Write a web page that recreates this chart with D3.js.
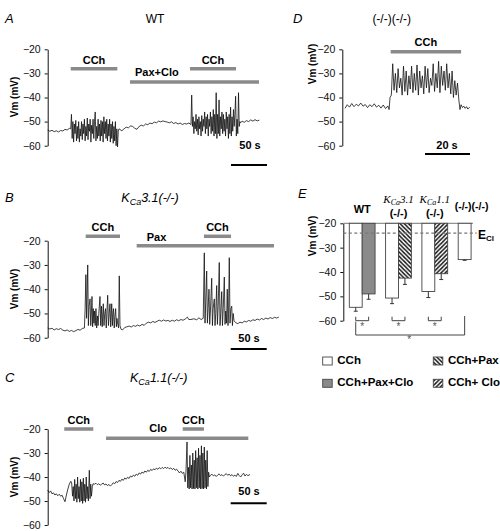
<!DOCTYPE html>
<html><head><meta charset="utf-8">
<script src="https://cdn.jsdelivr.net/npm/d3@7"></script>
<style>body{margin:0;background:#fff} text{font-family:"Liberation Sans",Arial,sans-serif}</style>
</head><body><script>
// ---------- DATA ----------
const vmTicks = [-20, -30, -40, -50, -60];

// Panel A: WT trace [time s, Vm mV]
const traceA = [[0,-53.5],[3,-54],[6,-53.6],[9,-54.2],[12,-53.8],[15,-54.3],[18,-53.7],[21,-53.9],[24,-53.2],[27,-53.5],[30,-52.8],[32,-53],
[33,-47],[34,-57],[35,-50],[36,-58.5],[37,-51],[38,-55],[39,-49.5],[40,-58],[41,-52],[42,-57],[43,-50],[44,-58.5],[45,-53],[46,-56],[47,-50],[48,-57.5],[49,-51],[50,-55],[51,-49],[52,-58],[53,-52],[54,-56],[55,-48.5],[56,-57.5],[57,-51],[58,-54],[59,-49],[60,-58.5],[61,-51.5],[62,-55],[63,-49],[64,-57],[65,-50],[66,-46],[67,-58],[68,-52],[69,-57],[70,-49],[71,-56],[72,-51],[73,-58],[74,-49.5],[75,-56],[76,-50],[77,-58.5],[78,-48],[79,-55],[80,-50],[81,-57],[82,-49],[83,-58],[84,-51],[85,-56],[86,-49],[87,-58.5],[88,-51],[89,-57],[90,-50],[91,-59],[92,-52],[93,-58],[94,-50],[95,-60],[96,-53],[97,-60.5],[98,-54],[99,-53],
[100,-53.2],[103,-53.8],[106,-53],[109,-52.3],[112,-52.6],[115,-51.8],[118,-52],[121,-52.8],[124,-53.2],[127,-52],[130,-51.5],[133,-51.8],[136,-51],[139,-51.3],[142,-50.6],[145,-50.9],[148,-50.2],[151,-50.5],[154,-49.8],[157,-50.1],[160,-49.7],[163,-50],[166,-50.2],[169,-50.5],[172,-50.1],[175,-50.8],[178,-50.4],[181,-51],[184,-50.6],[187,-51.2],[190,-50.8],[193,-51],[196,-50.6],[199,-51.2],
[200,-39],[201,-52],[202,-48],[203,-55],[204,-50],[205,-53],[206,-47],[207,-54],[208,-49],[209,-55.5],[210,-48],[211,-53],[212,-50],[213,-56],[214,-47.5],[215,-54],[216,-49],[217,-52],[218,-46],[219,-55],[220,-48],[221,-53],[222,-47],[223,-56],[224,-49],[225,-52],[226,-46],[227,-55],[228,-48],[229,-54],[230,-45],[231,-56],[232,-47],[233,-55],[234,-38],[235,-57],[236,-47],[237,-55],[238,-41],[239,-56],[240,-48],[241,-53],[242,-46],[243,-55],[244,-47],[245,-54],[246,-49],[247,-56],[248,-46],[249,-53],[250,-48],[251,-57],[252,-47],[253,-55],[254,-44],[255,-56],[256,-48],[257,-54],[258,-45],[259,-52],[260,-47],[261,-39.5],[262,-56],[263,-49],[264,-55],[265,-38],[266,-52],[267,-50],
[268,-50.5],[270,-49.8],[273,-50.3],[276,-49.6],[279,-50],[282,-49.3],[285,-49.8],[288,-49.2],[291,-49.7],[294,-49.4]];

// Panel B: KCa3.1(-/-)
const traceB = [[0,-56],[3,-56.4],[6,-56.1],[9,-56.8],[12,-56.3],[15,-56.6],[18,-56.2],[21,-56.9],[24,-57.2],[27,-56.8],[30,-57.4],[33,-57],[36,-57.5],[39,-57.1],[42,-56.6],[45,-56.9],[48,-56.2],[51,-56],
[52,-48],[53,-34],[54,-52],[55.6,-30],[56.5,-55],[57.5,-47],[58.8,-44],[59.8,-55],[60.8,-49],[61.5,-43],[62.4,-55.5],[63.3,-48],[64.2,-54],[65,-49],[66,-55],[67,-48],[68,-56],[69,-51],[70,-55],[71,-50],[72.6,-43],[73.6,-55],[74.7,-47],[75.7,-55.5],[77.2,-46],[78.2,-55],[79.2,-50],[80.3,-48],[81.3,-56],[82.3,-49],[83.3,-42.5],[84.4,-55],[85.5,-50],[86.5,-46],[87.5,-55.5],[88.9,-46],[89.9,-55],[90.6,-50],[91.4,-48],[92.4,-56],[93.4,-51],[94.4,-48],[95.4,-55.5],[96.2,-52],[97,-54],[98.5,-56],[99.4,-34.5],[100.4,-55],[101.8,-56.5],
[104,-56.8],[107,-55.8],[110,-55.5],[113,-55.2],[116,-55.6],[119,-55],[122,-55.3],[125,-54.8],[128,-55.2],[131,-54.5],[134,-54.9],[137,-54],[140,-53.6],[143,-53.9],[146,-53.3],[149,-53.7],[152,-53.2],[155,-52.8],[158,-53.2],[161,-52.7],[164,-53.1],[167,-52.9],[170,-53.3],[173,-52.8],[176,-53.2],[179,-52.6],[182,-53],[185,-52.5],[188,-52.8],[191,-52.3],[194,-51.5],[196,-52.5],[199,-52.5],[203,-52.2],[207,-52.6],[210,-51.8],[213,-52.5],[216,-52],
[217.5,-25],[218.5,-54],[219.5,-45],[220.8,-32.5],[221.8,-54],[222.8,-48],[224,-40],[225,-54.5],[226,-49],[227.8,-35.5],[228.8,-55],[229.8,-48],[231.4,-44],[232.4,-55],[233.4,-50],[234.7,-38.5],[235.7,-54.5],[236.8,-47],[238.3,-29],[239.3,-55],[240.3,-50],[241.7,-41],[242.7,-55],[243.8,-48],[245.3,-35],[246.3,-54.5],[247.3,-49],[248.4,-54],[249.4,-40],[250.4,-55],[251.2,-50],[252.2,-27],[253.2,-54],[254.4,-48],[255.6,-47],[256.6,-55],[257.6,-50],[258.8,-53],
[261,-53.8],[264,-54.2],[267,-53.6],[270,-53.9],[273,-53.2],[276,-53.5],[279,-52.9],[282,-53.2],[285,-52.6],[288,-52.9],[291,-52.3],[294,-52.7],[297,-52.1],[300,-52.5],[303,-51.9],[306,-52.3],[309,-51.7],[312,-52.1],[315,-51.6],[318,-51.9],[321,-51.5]];

// Panel C: KCa1.1(-/-)
const traceC = [[0,-45.5],[2,-46.5],[4,-45.8],[6,-47],[8,-46.6],[10,-47.5],[12,-47],[14,-47.8],[16,-47.2],[18,-48],[20,-47.6],[22,-49],[24,-50.3],[26,-47.5],[28,-45],[30,-43],[32,-41.8],[33.3,-42.5],
[34.5,-48],[35.5,-44],[36.5,-50],[37.5,-41],[38.5,-49],[39.5,-43],[40.5,-50.5],[41.5,-40],[42.5,-49],[43.5,-44],[44.5,-50.5],[45.5,-41],[46.5,-50],[47.5,-42],[48.5,-51],[49.5,-40.5],[50.5,-50],[51.5,-43],[52.5,-50.5],[53.5,-40],[54.5,-49],[55.5,-44],[56.5,-50],[57.8,-37.2],[58.8,-49],[59.8,-43],[60.8,-48],[62,-44],[63,-42.8],
[65,-43],[67,-42.6],[69,-43.2],[71,-42.8],[73,-43.4],[75,-43],[77,-42.5],[79,-43.3],[81,-42.9],[83,-43.6],[85,-43.1],[87,-43.8],[89,-43.2],[91,-42.4],[93,-42.8],[95,-41.9],[97,-42.3],[99,-41.4],[101,-41.8],[103,-40.9],[105,-41.4],[107,-40.4],[109,-40.9],[111,-40.1],[113,-40.6],[115,-39.6],[117,-40],[119,-39.2],[121,-39.7],[123,-38.8],[125,-39.3],[127,-38.3],[129,-38.8],[131,-37.9],[133,-38.4],[135,-37.5],[137,-38],[139,-37.2],[141,-37.7],[143,-36.8],[145,-37.3],[147,-36.6],[149,-37],[151,-36.3],[153,-36.8],[155,-36.1],[157,-36.6],[159,-36],[161,-36.5],[163,-35.9],[165,-36.4],[167,-36],[169,-36.6],[171,-36.2],[173,-36.9],[175,-36.4],[177,-37.2],[179,-36.7],[181,-37.5],[183,-38.3],[185,-37.6],[187,-38.5],[189,-38],
[191,-42],[192,-38],[193.5,-25.4],[194.5,-44.5],[195.5,-36],[196.5,-45],[197.5,-31],[198.5,-44.5],[199.5,-35],[200.5,-45],[201.5,-30],[202.5,-44.8],[203.5,-33],[204.5,-45],[205.5,-29],[206.5,-44.5],[207.5,-32],[208.5,-45],[209.5,-28],[210.5,-44.5],[211.5,-31],[212.5,-45],[213.5,-27],[214.5,-44.8],[215.5,-30],[216.5,-45],[217.5,-27.5],[218.5,-44.5],[219.5,-33],[220.5,-45],[221.5,-29],[222.5,-44],[223.5,-38],[224.5,-40],
[226,-39.3],[228,-38.8],[230,-39.5],[232,-39.1],[234,-39.8],[236,-39.2],[238,-38.7],[240,-39.4],[242,-39],[244,-39.6],[246,-39.1],[248,-38.6],[250,-39.3],[252,-38.8],[254,-39.5],[256,-39],[258,-39.7],[260,-39.2],[262,-39.8],[264,-38.5],[266,-39.4],[268,-40],[270,-39.1],[272,-38.4],[274,-39.6],[276,-38.9],[278,-39.4],[281,-39]];

// Panel D: (-/-)(-/-)
const traceD = [[0,-44.5],[1,-43],[2,-44],[3,-42.5],[4,-43.8],[5,-42.8],[6,-43.5],[7,-42.3],[8,-43.6],[9,-42.9],[10,-44.2],[11,-43],[12,-43.8],[13,-42.6],[14,-44],[15,-43.2],[16,-44.4],[17,-43.1],[18,-44.6],[19,-43.5],[19.6,-45],
[20,-40],[20.6,-39],[21.2,-26],[21.8,-37],[22.4,-30],[23,-38],[23.6,-28],[24.2,-36],[24.8,-32],[25.4,-39],[26,-27],[26.6,-37.5],[27.2,-29],[27.8,-39],[28.4,-31],[29,-36.5],[29.6,-27],[30.2,-38],[30.8,-30],[31.4,-37],[32,-26.5],[32.6,-39],[33.2,-29],[33.8,-36],[34.4,-31],[35,-38.5],[35.6,-27],[36.2,-36],[36.8,-28],[37.4,-38],[38,-32],[38.6,-35],[39.2,-26],[39.8,-37.5],[40.4,-30],[41,-36],[41.6,-25],[42.2,-38],[42.8,-27],[43.4,-35],[44,-29],[44.6,-37],[45.2,-26],[45.8,-36],[46.4,-30],[47,-38.5],[47.6,-29],[48.2,-40],[48.8,-33],[49.4,-39],[50,-34],[50.6,-41],[51.1,-45],
[51.6,-43],[52.2,-44.2],[52.8,-43.6],[53.4,-44.5],[54,-43.8],[54.6,-44.8],[55.4,-44]];

// Drug applications (seconds)
const drugsA = [{name:"CCh",start:32,end:96.7,row:0},{name:"Pax+Clo",start:114.3,end:293.5,row:1},{name:"CCh",start:197.6,end:261.5,row:0}];
const drugsB = [{name:"CCh",start:52.8,end:100.4,row:0},{name:"Pax",start:123.6,end:314.3,row:1},{name:"CCh",start:217,end:254.6,row:0}];
const drugsC = [{name:"CCh",start:23,end:63.3,row:0},{name:"Clo",start:81,end:278.6,row:1},{name:"CCh",start:187.5,end:217,row:0}];
const drugsD = [{name:"CCh",start:20.3,end:51.6,row:0}];

// Panel E summary
const groupsE = ["WT","KCa3.1","KCa1.1","DKO"];
const condsE = ["CCh","CCh+Pax","CCh+Pax+Clo","CCh+ Clo"];
const barsE = [
  {group:"WT",     cond:"CCh",         mean:-54.5, sem:1.6},
  {group:"WT",     cond:"CCh+Pax+Clo", mean:-49.0, sem:2.2},
  {group:"KCa3.1", cond:"CCh",         mean:-50.7, sem:2.3},
  {group:"KCa3.1", cond:"CCh+Pax",     mean:-42.5, sem:2.6},
  {group:"KCa1.1", cond:"CCh",         mean:-48.0, sem:2.5},
  {group:"KCa1.1", cond:"CCh+ Clo",    mean:-40.7, sem:2.4},
  {group:"DKO",    cond:"CCh",         mean:-34.9, sem:0.3}
];
const eCl = -24;

// ---------- DRAW ----------
const svg = d3.select("body").append("svg").attr("width",500).attr("height",531);
svg.append("rect").attr("width",500).attr("height",531).attr("fill","#fff");
const defs = svg.append("defs");
function hatch(id, d){
  const p = defs.append("pattern").attr("id",id).attr("patternUnits","userSpaceOnUse").attr("width",4.2).attr("height",4.2);
  p.append("rect").attr("width",4.2).attr("height",4.2).attr("fill","#fff");
  p.append("path").attr("d",d).attr("stroke","#111").attr("stroke-width",1.4).attr("fill","none");
}
hatch("hBack","M-1,-1L5.2,5.2M-1,3.2L1,5.2M3.2,-1L5.2,1");
hatch("hFwd","M-1,1L1,-1M0,4.2L4.2,0M3.2,5.2L5.2,3.2");
const fillOf = {"CCh":"#fff","CCh+Pax":"url(#hBack)","CCh+Pax+Clo":"#8a8a8a","CCh+ Clo":"url(#hFwd)"};

const layout = {
  A:{trace:traceA,drugs:drugsA,T:295,x0:47.7,pxs:0.72,yTop:49.3,yBot:145.7,axisX:47.7,rows:[68.7,82],labY:[61,73],
     scale:{len:50,right:267,y:165,lx:250,ly:146,txt:"50 s"},letter:[5,20],title:[155,20],vm:[15,97],labOv:{1:{anchor:"start",dx:5}}},
  B:{trace:traceB,drugs:drugsB,T:321.7,x0:47.7,pxs:0.72,yTop:240.7,yBot:337.7,axisX:47.7,rows:[236.3,245.7],labY:[227.7,237.7],
     scale:{len:50,right:266.7,y:349,lx:249,ly:339,txt:"50 s"},letter:[5,199],title:[150,199],vm:[15,289],labOv:{1:{anchor:"start",dx:10}}},
  C:{trace:traceC,drugs:drugsC,T:282,x0:47.7,pxs:0.72,yTop:429,yBot:525,axisX:47.7,rows:[429,438.3],labY:[420.7,429.3],
     scale:{len:50,right:266.7,y:503.3,lx:249,ly:491.7,txt:"50 s"},letter:[5,379],title:[158.7,379],vm:[15,477],labOv:{1:{anchor:"middle",dx:-19}}},
  D:{trace:traceD,drugs:drugsD,T:55.6,x0:345,pxs:2.25,yTop:49.3,yBot:145.7,axisX:342.3,rows:[51.7],labY:[42.7],
     scale:{len:20,right:470,y:154,lx:447,ly:145.7,txt:"20 s"},letter:[293,20],title:[391.7,20],vm:[313.3,64],labOv:{}}
};

function vmLabel(g, x, y){
  g.append("text").attr("transform",`translate(${x},${y}) rotate(-90)`).attr("text-anchor","middle")
   .attr("dominant-baseline","middle").attr("font-size",10).attr("font-weight","bold").text("Vm (mV)");
}
function yAxis(g, y, x){
  const ax = g.append("g").attr("transform",`translate(${x},0)`)
    .call(d3.axisLeft(y).tickValues(vmTicks).tickSize(3).tickSizeOuter(0).tickPadding(4).tickFormat(d3.format("d")));
  ax.selectAll("path,line").attr("stroke","#111");
  ax.selectAll("text").attr("font-size",10.5).attr("fill","#111").style("font-family",'"Liberation Sans",Arial,sans-serif');
}
function kTitle(g, x, y, sub, rest, opts){
  const t = g.append("text").attr("x",x).attr("y",y).attr("text-anchor","middle").attr("font-size",opts.size)
    .attr("font-style","italic").attr("dominant-baseline","middle");
  if(opts.family) t.style("font-family",opts.family);
  if(opts.weight) t.attr("font-weight",opts.weight);
  t.append("tspan").text("K");
  t.append("tspan").attr("dy",opts.size*0.3).attr("font-size",opts.size*0.72).text(sub);
  t.append("tspan").attr("dy",-opts.size*0.3).text(rest);
  return t;
}

Object.entries(layout).forEach(([key,L])=>{
  const g = svg.append("g");
  const x = d3.scaleLinear().domain([0,L.T]).range([L.x0, L.x0 + L.T*L.pxs]);
  const y = d3.scaleLinear().domain([-60,-20]).range([L.yBot, L.yTop]);
  g.append("text").attr("x",L.letter[0]).attr("y",L.letter[1]).attr("dominant-baseline","middle")
    .attr("font-size",13).attr("font-style","italic").text(key);
  if(key==="A") g.append("text").attr("x",L.title[0]).attr("y",L.title[1]).attr("text-anchor","middle").attr("dominant-baseline","middle").attr("font-size",12).text("WT");
  if(key==="B") kTitle(g,L.title[0],L.title[1],"Ca","3.1(-/-)",{size:12.5});
  if(key==="C") kTitle(g,L.title[0],L.title[1],"Ca","1.1(-/-)",{size:12.5});
  if(key==="D") g.append("text").attr("x",L.title[0]).attr("y",L.title[1]).attr("text-anchor","middle").attr("dominant-baseline","middle").attr("font-size",12).text("(-/-)(-/-)");
  yAxis(g, y, L.axisX);
  vmLabel(g, L.vm[0], L.vm[1]);
  L.drugs.forEach((d,i)=>{
    const by = L.rows[d.row];
    g.append("line").attr("x1",x(d.start)).attr("x2",x(d.end)).attr("y1",by).attr("y2",by)
      .attr("stroke","#8a8a8a").attr("stroke-width",3.5);
    const ov = L.labOv[i];
    let lx = (x(d.start)+x(d.end))/2, anchor="middle";
    if(ov){ if(ov.anchor==="start"){ lx = x(d.start)+ov.dx; anchor="start"; } else { lx += ov.dx; } }
    g.append("text").attr("x",lx).attr("y",L.labY[d.row]).attr("text-anchor",anchor).attr("dominant-baseline","middle")
      .attr("font-size",11).attr("font-weight","bold").text(d.name);
  });
  g.append("path").datum(L.trace).attr("fill","none").attr("stroke","#111").attr("stroke-width",0.8)
    .attr("stroke-linejoin","round").attr("d",d3.line().x(d=>x(d[0])).y(d=>y(d[1])));
  const len = x(L.scale.len)-x(0);
  g.append("line").attr("x1",L.scale.right-len).attr("x2",L.scale.right).attr("y1",L.scale.y).attr("y2",L.scale.y)
    .attr("stroke","#000").attr("stroke-width",2);
  g.append("text").attr("x",L.scale.lx).attr("y",L.scale.ly).attr("text-anchor","middle").attr("dominant-baseline","middle")
    .attr("font-size",11).attr("font-weight","bold").text(L.scale.txt);
});

// ---------- PANEL E ----------
(function(){
  const g = svg.append("g");
  const y = d3.scaleLinear().domain([-60,-20]).range([320.7,223.3]);
  const gx = d3.scaleBand().domain(groupsE).range([349.3, 349.3+36.3*3.71]).paddingInner(0.29).paddingOuter(0);
  const sx = d3.scaleBand().domain([0,1]).range([0, gx.bandwidth()]);
  const idx = {};
  const barPos = barsE.map(b=>{ idx[b.group]=(idx[b.group]===undefined?0:idx[b.group]+1); return {...b, i:idx[b.group]}; });
  const cx = b => gx(b.group)+sx(b.i)+sx.bandwidth()/2;

  g.append("text").attr("x",298).attr("y",195).attr("dominant-baseline","middle").attr("font-size",13).attr("font-style","italic").text("E");
  vmLabel(g, 313.3, 236);
  yAxis(g, y, 343.3);
  g.append("line").attr("x1",343.3).attr("x2",473).attr("y1",y(-20)).attr("y2",y(-20)).attr("stroke","#777").attr("stroke-width",1);
  barPos.forEach(b=>{
    g.append("rect").attr("x",gx(b.group)+sx(b.i)).attr("y",y(-20)).attr("width",sx.bandwidth()).attr("height",y(b.mean)-y(-20))
      .attr("fill",fillOf[b.cond]).attr("stroke","#444").attr("stroke-width",0.9);
    const c = cx(b);
    g.append("line").attr("x1",c).attr("x2",c).attr("y1",y(b.mean)).attr("y2",y(b.mean-b.sem)).attr("stroke","#333");
    g.append("line").attr("x1",c-2).attr("x2",c+2).attr("y1",y(b.mean-b.sem)).attr("y2",y(b.mean-b.sem)).attr("stroke","#333");
  });
  g.append("line").attr("x1",343.3).attr("x2",476.7).attr("y1",y(eCl)).attr("y2",y(eCl)).attr("stroke","#777")
    .attr("stroke-width",1.2).attr("stroke-dasharray","3,2.5");
  const ecl = g.append("text").attr("x",478).attr("y",y(eCl)+3).attr("dominant-baseline","middle").attr("font-size",12).attr("font-weight","bold");
  ecl.append("tspan").text("E");
  ecl.append("tspan").attr("dy",3).attr("font-size",8).text("Cl");
  const lab = {};
  groupsE.forEach(gr=>{ lab[gr] = gx(gr) + gx.bandwidth()/2; });
  g.append("text").attr("x",lab.WT).attr("y",210).attr("text-anchor","middle").attr("dominant-baseline","middle").attr("font-size",11).attr("font-weight","bold").text("WT");
  kTitle(g, lab["KCa3.1"], 200, "Ca", "3.1", {size:11, family:'"Liberation Serif","Times New Roman",serif'});
  kTitle(g, lab["KCa1.1"], 200, "Ca", "1.1", {size:11, family:'"Liberation Serif","Times New Roman",serif'});
  ["KCa3.1","KCa1.1"].forEach(gr=> g.append("text").attr("x",lab[gr]).attr("y",214).attr("text-anchor","middle").attr("dominant-baseline","middle").attr("font-size",11).attr("font-weight","bold").text("(-/-)"));
  g.append("text").attr("x",lab.DKO+0.5).attr("y",207.5).attr("text-anchor","middle").attr("dominant-baseline","middle").attr("font-size",10.5).attr("font-weight","bold").text("(-/-)(-/-)");
  const brk = "#444";
  ["WT","KCa3.1","KCa1.1"].forEach(gr=>{
    const bs = barPos.filter(b=>b.group===gr);
    const a = cx(bs[0]), c = cx(bs[1]);
    g.append("path").attr("d",`M${a},316.7V320.7H${c}V316.7`).attr("fill","none").attr("stroke",brk);
    g.append("text").attr("x",(a+c)/2).attr("y",327).attr("text-anchor","middle").attr("dominant-baseline","middle").attr("font-size",10).attr("fill","#555").text("*");
  });
  const a = cx(barPos[0]), c = cx(barPos[6]);
  g.append("path").attr("d",`M${a},321.7V335H${c}V316`).attr("fill","none").attr("stroke",brk);
  g.append("text").attr("x",409.3).attr("y",340).attr("text-anchor","middle").attr("dominant-baseline","middle").attr("font-size",10).attr("fill","#555").text("*");
  const legPos = {"CCh":[322.7,361],"CCh+Pax":[433.3,361],"CCh+Pax+Clo":[322.7,383.3],"CCh+ Clo":[433.3,383.3]};
  condsE.forEach(cn=>{
    const [lx,ly] = legPos[cn];
    g.append("rect").attr("x",lx).attr("y",ly-4).attr("width",9.5).attr("height",8).attr("fill",fillOf[cn]).attr("stroke","#444").attr("stroke-width",0.9);
    g.append("text").attr("x",lx+14.6).attr("y",ly).attr("dominant-baseline","middle").attr("font-size",11.5).attr("font-weight","bold").text(cn);
  });
})();
</script></body></html>
